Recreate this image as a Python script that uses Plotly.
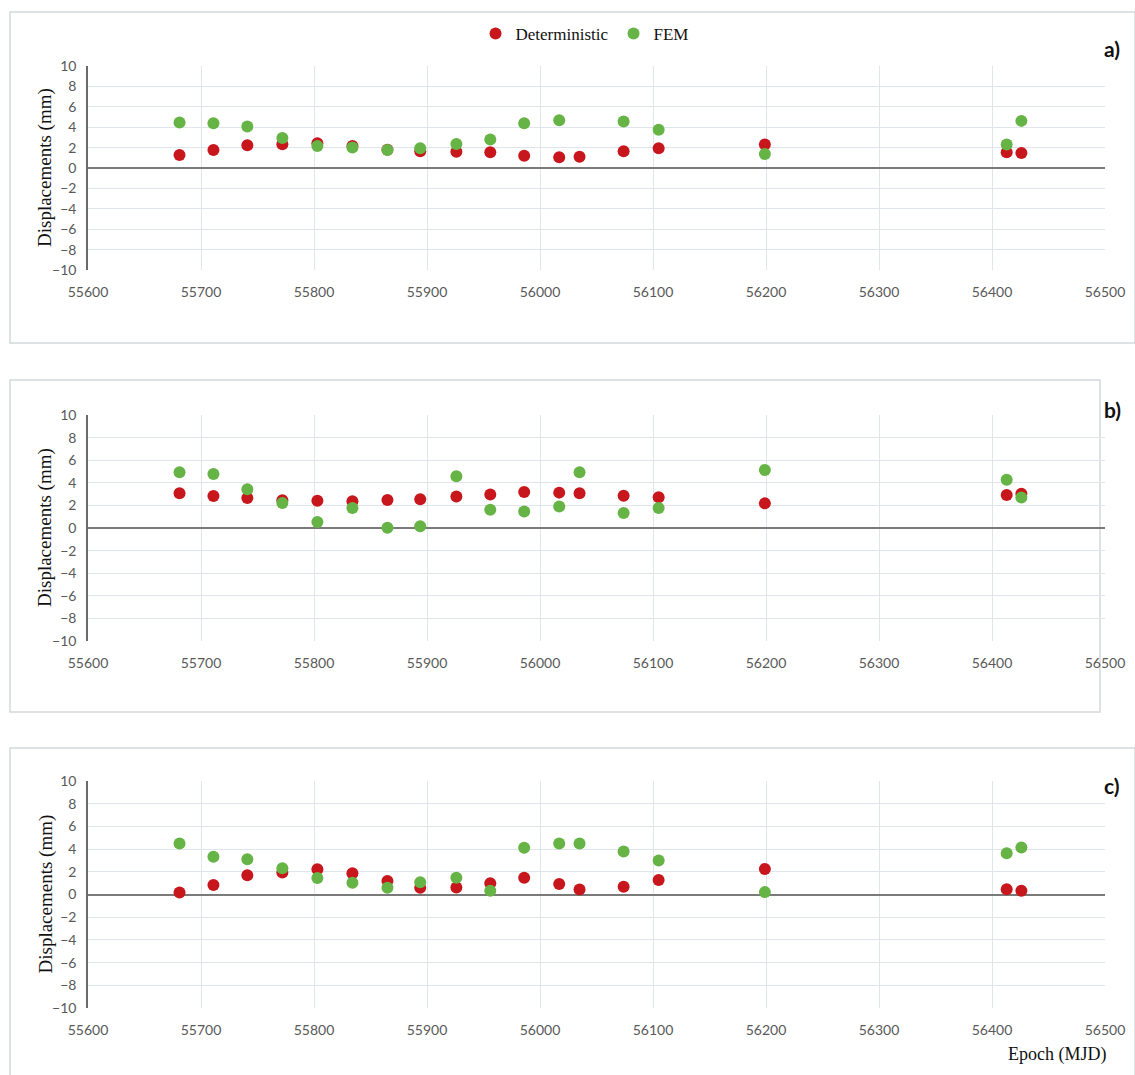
import plotly.graph_objects as go

# ---- data ----
epochs = [55681, 55711, 55741, 55772, 55803, 55834, 55865, 55894, 55926,
          55956, 55986, 56017, 56035, 56074, 56105, 56199, 56413, 56426]

a_det = [1.28, 1.77, 2.23, 2.33, 2.43, 2.16, 1.80, 1.64, 1.60,
         1.54, 1.21, 1.05, 1.11, 1.64, 1.93, 2.30, 1.54, 1.48]
a_fem = [4.46, 4.39, 4.07, 2.95, 2.16, 2.00, 1.77, 1.93, 2.36,
         2.79, 4.39, 4.69, None, 4.56, 3.74, 1.38, 2.30, 4.62]

b_det = [3.07, 2.84, 2.66, 2.45, 2.42, 2.36, 2.48, 2.54, 2.78,
         2.96, 3.19, 3.13, 3.07, 2.86, 2.72, 2.18, 2.93, 3.04]
b_fem = [4.93, 4.78, 3.43, 2.21, 0.54, 1.76, 0.03, 0.15, 4.57,
         1.61, 1.46, 1.91, 4.93, 1.33, 1.76, 5.13, 4.27, 2.69]

c_det = [0.18, 0.83, 1.69, 1.93, 2.22, 1.87, 1.19, 0.59, 0.62,
         1.00, 1.48, 0.92, 0.44, 0.68, 1.27, 2.25, 0.47, 0.33]
c_fem = [4.50, 3.32, 3.11, 2.31, 1.45, 1.04, 0.59, 1.07, 1.48,
         0.33, 4.12, 4.50, 4.50, 3.79, 2.99, 0.21, 3.64, 4.15]

panels = [("a)", a_det, a_fem), ("b)", b_det, b_fem), ("c)", c_det, c_fem)]
series_names = ["Deterministic", "FEM"]

# ---- style ----
W, H = 1135, 1075
RED = "#c8161d"
GREEN = "#66b446"
GRID = "#dfe5eb"
TICKFONT = dict(family="Lato, Open Sans, sans-serif", size=14, color="#595959")
SERIF = "Liberation Serif, DejaVu Serif, serif"

# pixel geometry of each plot area (top, bottom)
plot_rows = [(66, 270), (415, 641), (781, 1008)]
x_left, x_right = 88, 1105
label_y = [49, 409, 785]
boxes = [(10, 12, 1135, 343), (10, 380, 1100, 712), (10, 748, 1135, 1080)]


def py(y):
    return 1 - y / H


fig = go.Figure()
layout = {}
for i, (lab, det, fem) in enumerate(panels):
    sfx = "" if i == 0 else str(i + 1)
    xa, ya = "x" + sfx, "y" + sfx
    fig.add_trace(go.Scatter(
        x=epochs, y=det, mode="markers", name=series_names[0],
        marker=dict(color=RED, size=12), xaxis=xa, yaxis=ya,
        showlegend=(i == 0), legendgroup="d"))
    fig.add_trace(go.Scatter(
        x=epochs, y=fem, mode="markers", name=series_names[1],
        marker=dict(color=GREEN, size=12), xaxis=xa, yaxis=ya,
        showlegend=(i == 0), legendgroup="f"))
    top, bot = plot_rows[i]
    layout["xaxis" + sfx] = dict(
        domain=[x_left / W, x_right / W], anchor=ya, automargin=False,
        range=[55600, 56500], tickmode="linear", tick0=55600, dtick=100,
        tickformat="d",
        showgrid=True, gridcolor=GRID, gridwidth=1, zeroline=False,
        showline=False, ticks="outside", ticklen=9,
        tickcolor="rgba(0,0,0,0)", tickfont=TICKFONT)
    layout["yaxis" + sfx] = dict(
        domain=[py(bot), py(top)], anchor=xa, automargin=False,
        range=[-10, 10], tickmode="linear", tick0=-10, dtick=2,
        showgrid=True, gridcolor=GRID, gridwidth=1,
        zeroline=True, zerolinecolor="#7a7a7a", zerolinewidth=2,
        showline=True, linecolor="#6b6b6b", linewidth=1.5,
        ticks="outside", ticklen=7, tickcolor="rgba(0,0,0,0)",
        tickfont=TICKFONT)

annotations = []
shapes = []
for i in range(3):
    top, bot = plot_rows[i]
    annotations.append(dict(
        text="Displacements (mm)", x=45 / W, y=py((top + bot) / 2),
        xref="paper", yref="paper", textangle=-90, showarrow=False,
        font=dict(family=SERIF, size=19, color="#111111"),
        xanchor="center", yanchor="middle"))
    annotations.append(dict(
        text="<b>" + panels[i][0] + "</b>", x=1112 / W, y=py(label_y[i]),
        xref="paper", yref="paper", showarrow=False,
        font=dict(family="Lato, Open Sans, sans-serif", size=21, color="#111111"),
        xanchor="center", yanchor="middle"))
    x0, y0, x1, y1 = boxes[i]
    shapes.append(dict(type="rect", xref="paper", yref="paper",
                       x0=x0 / W, x1=x1 / W, y0=py(y1), y1=py(y0),
                       line=dict(color="#d5d9dd", width=1.5), layer="below"))

annotations.append(dict(
    text="Epoch (MJD)", x=1057 / W, y=py(1054), xref="paper", yref="paper",
    showarrow=False, font=dict(family=SERIF, size=18, color="#111111"),
    xanchor="center", yanchor="middle"))

fig.update_layout(
    width=W, height=H, margin=dict(l=0, r=0, t=0, b=0, autoexpand=False),
    paper_bgcolor="white", plot_bgcolor="white",
    showlegend=True,
    legend=dict(orientation="h", x=0.515, y=py(34), xanchor="center",
                yanchor="middle", font=dict(family=SERIF, size=17, color="#111111"),
                itemwidth=30, tracegroupgap=0, bgcolor="rgba(0,0,0,0)"),
    annotations=annotations, shapes=shapes,
    **layout)

fig.write_html("out.html")
